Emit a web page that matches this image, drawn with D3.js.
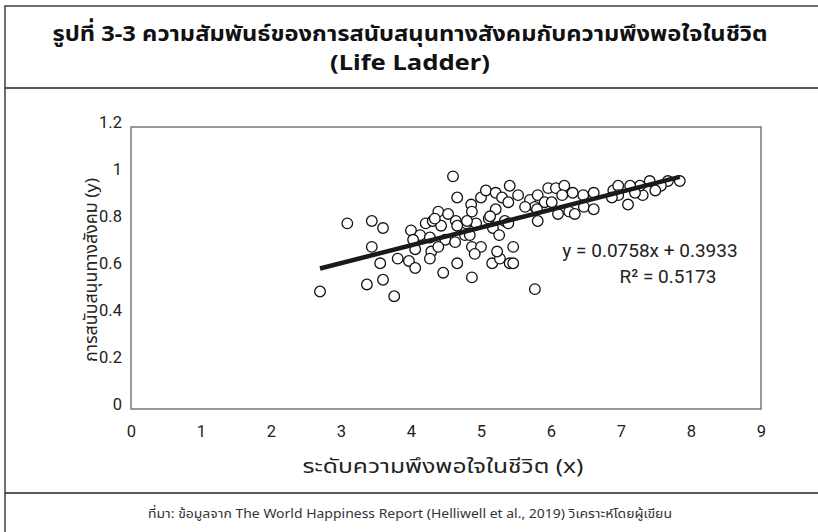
<!DOCTYPE html>
<html lang="th">
<head>
  <meta charset="UTF-8">
  <title>Social support vs Life Ladder</title>
  <script src="https://d3js.org/d3.v7.min.js"></script>
  <style>
    body { margin: 0; background: #fff; }
    svg { font-family: "Noto Sans", "Noto Sans Thai", sans-serif; }
  </style>
</head>
<body>
  <svg width="818" height="532"></svg>
  <script>
    // life ladder (x) and social support (y)
    const lifeLadder = [2.70, 3.09, 3.44, 3.60, 3.44, 3.56, 3.81, 3.60, 3.37, 3.76,
      4.00, 4.13, 4.21, 4.31, 4.39, 4.43, 4.53, 4.64, 4.79, 4.86,
      4.87, 5.00, 5.07, 5.21, 5.30, 5.21, 5.11, 5.17, 5.34, 4.93,
      5.26, 4.49, 4.63, 4.77, 4.87, 5.00, 4.91, 4.27, 4.29, 4.27,
      4.39, 4.06, 3.97, 4.06, 4.46, 4.66, 4.87, 5.16, 5.27, 5.23,
      5.41, 4.60, 4.66, 5.41, 5.53, 5.70, 5.81, 5.96, 6.07, 6.19,
      6.31, 6.46, 6.61, 6.89, 6.96, 6.16, 5.91, 5.77, 5.63, 5.39,
      5.39, 5.81, 6.10, 6.26, 6.34, 6.47, 6.61, 6.01, 5.46, 5.46,
      5.77, 7.84, 7.67, 7.57, 7.49, 7.41, 7.31, 7.27, 7.13, 7.10,
      7.20, 6.96, 6.87, 5.80, 5.13, 4.80, 4.84, 4.66, 4.34, 4.03];
    const socialSupport = [0.50, 0.79, 0.80, 0.77, 0.69, 0.62, 0.64, 0.55, 0.53, 0.48,
      0.76, 0.74, 0.79, 0.80, 0.84, 0.78, 0.83, 0.80, 0.79, 0.87,
      0.84, 0.90, 0.93, 0.92, 0.90, 0.85, 0.81, 0.77, 0.80, 0.79,
      0.74, 0.72, 0.71, 0.74, 0.69, 0.69, 0.66, 0.73, 0.67, 0.64,
      0.69, 0.68, 0.63, 0.60, 0.58, 0.62, 0.56, 0.62, 0.64, 0.67,
      0.62, 0.99, 0.90, 0.95, 0.91, 0.89, 0.91, 0.94, 0.94, 0.95,
      0.92, 0.91, 0.92, 0.93, 0.95, 0.91, 0.88, 0.86, 0.86, 0.88,
      0.79, 0.80, 0.83, 0.84, 0.83, 0.86, 0.85, 0.88, 0.69, 0.62,
      0.51, 0.97, 0.97, 0.95, 0.93, 0.97, 0.91, 0.95, 0.95, 0.87,
      0.92, 0.91, 0.90, 0.85, 0.82, 0.80, 0.74, 0.78, 0.81, 0.72];
    const xTicks = [0, 1, 2, 3, 4, 5, 6, 7, 8, 9];
    const yTicks = [0, 0.2, 0.4, 0.6, 0.8, 1, 1.2];
    const slope = 0.0758, intercept = 0.3933, r2 = 0.5173;

    const titleLines = ["รูปที่ 3-3 ความสัมพันธ์ของการสนับสนุนทางสังคมกับความพึงพอใจในชีวิต", "(Life Ladder)"];
    const xTitle = "ระดับความพึงพอใจในชีวิต (x)";
    const yTitle = "การสนับสนุนทางสังคม (y)";
    const source = "ที่มา: ข้อมูลจาก The World Happiness Report (Helliwell et al., 2019) วิเคราะห์โดยผู้เขียน";

    const svg = d3.select("svg");
    const plot = { left: 131, right: 761, top: 127, bottom: 409 };
    const numFont = "Roboto, 'Noto Sans', sans-serif";

    // outer frame
    svg.append("rect")
      .attr("x", 5).attr("y", 6).attr("width", 830).attr("height", 540)
      .attr("fill", "none").attr("stroke", "#222").attr("stroke-width", 1.3);
    [88, 493].forEach(yy => {
      svg.append("line").attr("x1", 5).attr("x2", 818).attr("y1", yy).attr("y2", yy)
        .attr("stroke", "#222").attr("stroke-width", 1.3);
    });

    svg.append("text")
      .attr("x", 410).attr("y", 41).attr("text-anchor", "middle")
      .attr("font-size", 22).attr("font-weight", "bold").attr("fill", "#111")
      .attr("textLength", 715).attr("lengthAdjust", "spacingAndGlyphs")
      .text(titleLines[0]);
    svg.append("text")
      .attr("x", 410).attr("y", 70).attr("text-anchor", "middle")
      .attr("font-size", 22).attr("font-weight", "bold").attr("fill", "#111")
      .attr("textLength", 160).attr("lengthAdjust", "spacingAndGlyphs")
      .text(titleLines[1]);

    const x = d3.scaleLinear().domain([0, 9]).range([plot.left, plot.right]);
    const y = d3.scaleLinear().domain([0, 1.2]).range([plot.bottom, plot.top]);

    // plot box
    svg.append("rect")
      .attr("x", plot.left).attr("y", plot.top)
      .attr("width", plot.right - plot.left).attr("height", plot.bottom - plot.top)
      .attr("fill", "none").attr("stroke", "#777").attr("stroke-width", 1.5);

    const xAxis = svg.append("g")
      .attr("transform", `translate(0,${plot.bottom})`)
      .call(d3.axisBottom(x).tickValues(xTicks).tickSize(0).tickPadding(16).tickFormat(d3.format("d")));
    const yAxis = svg.append("g")
      .attr("transform", `translate(${plot.left},0)`)
      .call(d3.axisLeft(y).tickValues(yTicks).tickSize(0).tickPadding(9).tickFormat(d => String(d)));
    [xAxis, yAxis].forEach(a => {
      a.select(".domain").remove();
      a.selectAll("text").attr("font-size", 16.5).attr("fill", "#222").attr("font-family", numFont);
    });
    yAxis.selectAll("text").attr("dy", "0.05em");

    svg.append("text")
      .attr("x", 443).attr("y", 473).attr("text-anchor", "middle")
      .attr("font-size", 19).attr("fill", "#222")
      .attr("textLength", 281).attr("lengthAdjust", "spacingAndGlyphs")
      .text(xTitle);
    svg.append("text")
      .attr("transform", "translate(97,270) rotate(-90)").attr("text-anchor", "middle")
      .attr("font-size", 17).attr("fill", "#222")
      .attr("textLength", 184).attr("lengthAdjust", "spacingAndGlyphs")
      .text(yTitle);

    const points = lifeLadder.map((v, i) => ({ x: v, y: socialSupport[i] }));
    svg.append("g").selectAll("circle").data(points).enter().append("circle")
      .attr("cx", d => x(d.x)).attr("cy", d => y(d.y)).attr("r", 5.3)
      .attr("fill", "#fff").attr("stroke", "#111").attr("stroke-width", 1.3);

    const xr = d3.extent(lifeLadder);
    svg.append("line")
      .attr("x1", x(xr[0])).attr("y1", y(slope * xr[0] + intercept))
      .attr("x2", x(xr[1])).attr("y2", y(slope * xr[1] + intercept))
      .attr("stroke", "#1a1a1a").attr("stroke-width", 4.5);

    svg.append("text")
      .attr("x", 650).attr("y", 257).attr("text-anchor", "middle")
      .attr("font-size", 19).attr("fill", "#222").attr("font-family", numFont)
      .text(`y = ${slope}x + ${intercept}`);
    svg.append("text")
      .attr("x", 668).attr("y", 283).attr("text-anchor", "middle")
      .attr("font-size", 19).attr("fill", "#222").attr("font-family", numFont)
      .text(`R² = ${r2}`);

    svg.append("text")
      .attr("x", 410).attr("y", 518).attr("text-anchor", "middle")
      .attr("font-size", 13).attr("fill", "#333")
      .attr("textLength", 524).attr("lengthAdjust", "spacingAndGlyphs")
      .text(source);
  </script>
</body>
</html>
